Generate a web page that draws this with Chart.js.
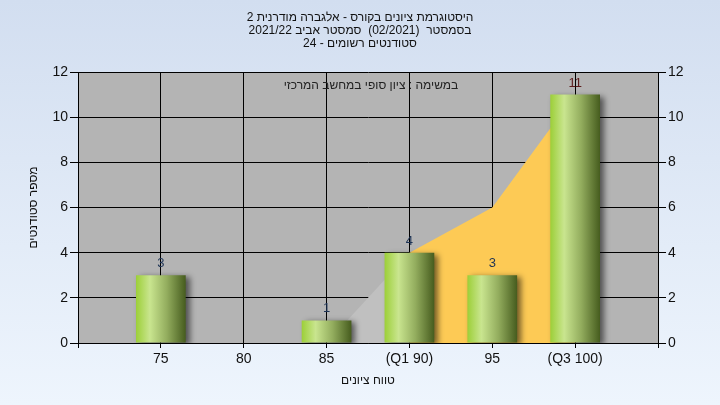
<!DOCTYPE html>
<html><head><meta charset="utf-8">
<script src="https://cdn.jsdelivr.net/npm/chart.js@4.4.1/dist/chart.umd.min.js"></script>
<style>html,body{margin:0;padding:0;background:#e4edf8}canvas{display:block}</style>
</head><body>
<canvas id="c" width="720" height="405"></canvas>
<script>
const titleLines = ['היסטוגרמת ציונים בקורס - אלגברה מודרנית 2', 'בסמסטר  (02/2021)  סמסטר אביב 2021/22', 'סטודנטים רשומים - 24'];
const noteText = 'במשימה : ציון סופי במחשב המרכזי';
const yTitle = 'מספר סטודנטים';
const xTitle = 'טווח ציונים';
const categories = ['70', '75', '80', '85', '90', '95', '100', '105'];
const tickLabels = ['', '75', '80', '85', '(Q1 90)', '95', '(Q3 100)', ''];
const students = [null, 3, 0, 1, 4, 3, 11, null];
const belowQ1 = [null, null, null, 0, 4, null, null, null];
const q1ToQ3 = [null, null, null, null, 4, 6, 11, null];
const yMin = 0, yMax = 12, yStep = 2;

const FONT = '"Liberation Sans", Arial, sans-serif';
const BAR_PCT = 0.6;

function barFill(c){
  const ch = c.chart, x = ch.scales && ch.scales.x;
  if(!x || !ch.chartArea) return '#9dcf3a';
  const cx = x.getPixelForValue(c.dataIndex);
  const half = (x.getPixelForValue(1) - x.getPixelForValue(0)) * BAR_PCT / 2;
  const g = ch.ctx.createLinearGradient(cx - half, 0, cx + half, 0);
  g.addColorStop(0, '#9ccf38');
  g.addColorStop(0.28, '#c9e58f');
  g.addColorStop(0.62, '#93ad5e');
  g.addColorStop(1, '#465c1e');
  return g;
}

const bgPlugin = {
  id: 'bg',
  beforeDraw(chart){
    const {ctx, width, height, chartArea: a} = chart;
    ctx.save();
    const g = ctx.createLinearGradient(0, 0, 0, height);
    g.addColorStop(0, '#d2def0');
    g.addColorStop(1, '#eef5fd');
    ctx.fillStyle = g;
    ctx.fillRect(0, 0, width, height);
    ctx.fillStyle = '#b4b4b4';
    ctx.fillRect(a.left, a.top, a.right - a.left, a.bottom - a.top);
    ctx.restore();
  }
};

const shadowPlugin = {
  id: 'barShadow',
  beforeDatasetDraw(chart, args){
    if(args.index !== 2) return;
    const ctx = chart.ctx;
    ctx.save();
    ctx.shadowColor = 'rgba(0,0,0,0.55)';
    ctx.shadowBlur = 6;
    ctx.shadowOffsetX = 4;
    ctx.shadowOffsetY = 2;
  },
  afterDatasetDraw(chart, args){
    if(args.index !== 2) return;
    chart.ctx.restore();
  }
};

const labelPlugin = {
  id: 'barLabels',
  afterDatasetsDraw(chart){
    const ctx = chart.ctx, a = chart.chartArea;
    const top = Math.max(...students.filter(v => v != null));
    ctx.save();
    ctx.font = '13px ' + FONT;
    ctx.textAlign = 'center';
    ctx.textBaseline = 'alphabetic';
    chart.getDatasetMeta(2).data.forEach((bar, i) => {
      const v = students[i];
      if(!v) return;
      ctx.fillStyle = v === top ? '#5c1d1d' : '#1d3355';
      ctx.fillText(String(v), bar.x, bar.y - 8);
    });
    ctx.font = '12px ' + FONT;
    ctx.fillStyle = '#222';
    ctx.textBaseline = 'middle';
    ctx.fillText(noteText, (a.left + a.right) / 2 + 3, a.top + 14);
    ctx.restore();
  }
};

new Chart(document.getElementById('c'), {
  data: {
    labels: categories,
    datasets: [
      {type: 'line', data: belowQ1, fill: 'origin', backgroundColor: '#c0c0c0', borderWidth: 0, borderColor: 'rgba(0,0,0,0)', pointRadius: 0, order: 3},
      {type: 'line', data: q1ToQ3, fill: 'origin', backgroundColor: '#fdca55', borderWidth: 0, borderColor: 'rgba(0,0,0,0)', pointRadius: 0, order: 2},
      {type: 'bar', data: students, backgroundColor: barFill, borderWidth: 0, barPercentage: BAR_PCT, categoryPercentage: 1, order: 1}
    ]
  },
  options: {
    responsive: false,
    animation: false,
    events: [],
    layout: {padding: 0},
    plugins: {
      legend: {display: false},
      tooltip: {enabled: false},
      title: {
        display: true, text: titleLines, color: '#111',
        font: {family: FONT, size: 12, weight: 'normal', lineHeight: 13 / 12},
        padding: {top: 11, bottom: 22}
      }
    },
    scales: {
      x: {
        type: 'category', offset: false,
        grid: {offset: false, color: '#000', lineWidth: 1, tickLength: 5, tickColor: '#000'},
        border: {color: '#000'},
        ticks: {color: '#111', font: {family: FONT, size: 14}, padding: 3, autoSkip: false, maxRotation: 0,
          callback: (v, i) => tickLabels[i]},
        title: {display: true, text: xTitle, color: '#111', font: {family: FONT, size: 12}, padding: {top: 0, bottom: 17}},
        afterFit: s => { s.height = 62; }
      },
      y: {
        position: 'left', min: yMin, max: yMax,
        grid: {color: '#000', lineWidth: 1, tickLength: 8, tickColor: '#000'},
        border: {color: '#000'},
        ticks: {stepSize: yStep, color: '#111', font: {family: FONT, size: 14}, padding: 2},
        title: {display: true, text: yTitle, color: '#111', font: {family: FONT, size: 12}, padding: {top: 26, bottom: 0}},
        afterFit: s => { s.width = 78; }
      },
      y2: {
        position: 'right', min: yMin, max: yMax,
        grid: {drawOnChartArea: false, tickLength: 8, tickColor: '#000'},
        border: {color: '#000'},
        ticks: {stepSize: yStep, color: '#111', font: {family: FONT, size: 14}, padding: 2},
        afterFit: s => { s.width = 62; }
      }
    }
  },
  plugins: [bgPlugin, shadowPlugin, labelPlugin]
});
</script>
</body></html>
